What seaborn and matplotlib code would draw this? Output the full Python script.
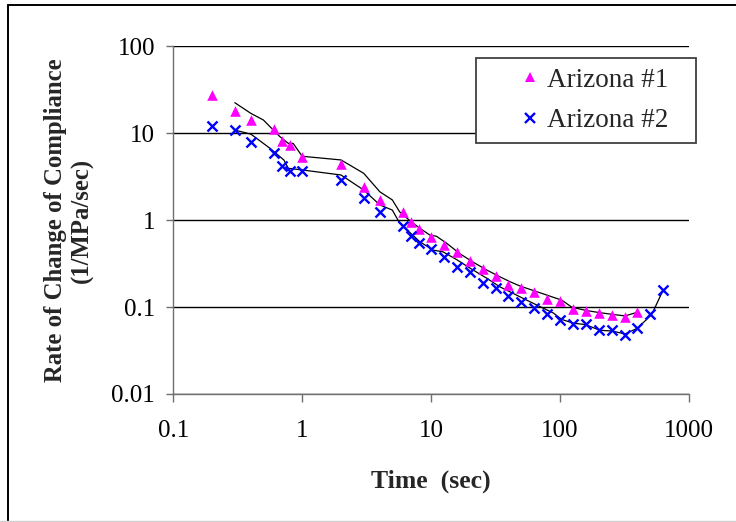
import matplotlib
matplotlib.use("Agg")
import matplotlib.pyplot as plt
from matplotlib.lines import Line2D
import numpy as np
import pandas as pd
import seaborn as sns

# Measured rate of change of creep compliance, two Arizona specimens
time_1 = [0.2, 0.3, 0.4, 0.6, 0.7, 0.8, 1.0, 2.0, 3.0, 4.0, 6.0, 7.0, 8.0, 10.0,
          12.6, 15.8, 20.0, 25.1, 31.6, 39.8, 50.1, 63.1, 79.4, 100.0, 125.9,
          158.5, 199.5, 251.2, 316.2, 398.1]
rate_1 = [27.0, 18.0, 14.0, 11.0, 8.0, 7.2, 5.3, 4.4, 2.4, 1.7, 1.25, 0.94, 0.79,
          0.64, 0.52, 0.425, 0.34, 0.27, 0.23, 0.18, 0.164, 0.148, 0.125, 0.118,
          0.096, 0.090, 0.085, 0.081, 0.077, 0.088]

time_2 = [0.2, 0.3, 0.4, 0.6, 0.7, 0.8, 1.0, 2.0, 3.0, 4.0, 6.0, 7.0, 8.0, 10.0,
          12.6, 15.8, 20.0, 25.1, 31.6, 39.8, 50.1, 63.1, 79.4, 100.0, 125.9,
          158.5, 199.5, 251.2, 316.2, 398.1, 501.2, 631.0]
rate_2 = [12.0, 10.7, 7.8, 5.9, 4.2, 3.7, 3.7, 2.9, 1.8, 1.25, 0.85, 0.65, 0.55,
          0.47, 0.38, 0.29, 0.25, 0.19, 0.164, 0.134, 0.113, 0.097, 0.082, 0.070,
          0.063, 0.063, 0.054, 0.054, 0.048, 0.057, 0.083, 0.158]

# Smoothed curves drawn through each data set
fit_time_1 = [0.3, 0.4, 0.5, 0.67, 0.78, 0.85, 1.0, 2.0, 3.0, 4.0, 5.0, 5.7, 7.0,
              8.2, 9.8, 11.0, 13.2, 16.7, 21.0, 27.0, 34.0, 41.0, 49.0, 66.0, 89.0,
              103.0, 124.0, 161.0, 204.0, 259.0, 319.0, 398.0]
fit_rate_1 = [22.3, 16.8, 14.1, 9.1, 7.6, 7.6, 5.4, 4.9, 3.44, 2.11, 1.70, 1.24,
              0.955, 0.80, 0.67, 0.65, 0.54, 0.41, 0.33, 0.266, 0.223, 0.195, 0.174,
              0.150, 0.129, 0.120, 0.099, 0.091, 0.086, 0.082, 0.079, 0.087]

fit_time_2 = [0.3, 0.4, 0.56, 0.72, 0.78, 1.0, 2.0, 3.0, 4.0, 5.0, 5.7, 6.9, 8.2,
              10.4, 12.4, 15.8, 20.0, 27.0, 34.0, 43.0, 55.0, 70.0, 89.0, 103.0,
              127.0, 156.0, 204.0, 252.0, 319.0, 398.0, 514.0, 632.0]
fit_rate_2 = [10.8, 9.7, 6.7, 4.9, 3.93, 3.76, 3.29, 2.21, 1.49, 1.30, 0.92, 0.71,
              0.56, 0.45, 0.43, 0.35, 0.28, 0.214, 0.171, 0.144, 0.120, 0.101, 0.085,
              0.072, 0.065, 0.063, 0.054, 0.053, 0.049, 0.057, 0.082, 0.158]

series_names = ["Arizona #1", "Arizona #2"]
x_ticks = [0.1, 1, 10, 100, 1000]
x_tick_labels = ["0.1", "1", "10", "100", "1000"]
y_ticks = [0.01, 0.1, 1, 10, 100]
y_tick_labels = ["0.01", "0.1", "1", "10", "100"]

sns.set_theme(style="white")
plt.rcParams["font.family"] = ["Liberation Serif", "DejaVu Serif"]

W, H = 736, 522
fig = plt.figure(figsize=(W / 100, H / 100), dpi=100)
ax_l, ax_r, ax_t, ax_b = 173.3, 689.0, 46.0, 394.0
ax = fig.add_axes([ax_l / W, 1 - ax_b / H, (ax_r - ax_l) / W, (ax_b - ax_t) / H])

# Smoothed curves
sns.lineplot(x=fit_time_1, y=fit_rate_1, ax=ax, color="black", lw=0.9,
             sort=False, estimator=None, zorder=3)
sns.lineplot(x=fit_time_2, y=fit_rate_2, ax=ax, color="black", lw=0.9,
             sort=False, estimator=None, zorder=3)

# Data points
sns.scatterplot(x=time_1, y=rate_1, ax=ax, marker="^", color="#FF00FF", s=58,
                linewidth=0, zorder=4)
sns.scatterplot(x=time_2, y=rate_2, ax=ax, marker="x", color="#0000FF", s=52,
                linewidth=1.7, zorder=4)

ax.set_xscale("log")
ax.set_yscale("log")
ax.set_xlim(0.1, 1000)
ax.set_ylim(0.01, 100)
ax.set_xticks(x_ticks, labels=x_tick_labels)
ax.set_yticks(y_ticks, labels=y_tick_labels)
ax.minorticks_off()

# Horizontal major gridlines only
ax.yaxis.grid(True, color="black", lw=1.0)
ax.xaxis.grid(False)
ax.set_axisbelow(True)

for side in ["top", "right"]:
    ax.spines[side].set_visible(False)
for side in ["left", "bottom"]:
    ax.spines[side].set_color("#707070")
    ax.spines[side].set_linewidth(1.0)

ax.tick_params(axis="x", direction="out", length=5.5, width=1.0, color="#707070",
               pad=13, labelsize=18, labelcolor="black", bottom=True)
ax.tick_params(axis="y", direction="out", length=5.0, width=1.0, color="#707070",
               pad=8, labelsize=18, labelcolor="black", left=True)

ax.set_xlabel("Time  (sec)", fontsize=18.5, fontweight="bold")
ax.xaxis.set_label_coords(0.5, (ax_b - 481) / (ax_b - ax_t))
ax.xaxis.label.set_va("center")

ax.set_ylabel("Rate of Change of Compliance\n(1/MPa/sec)", fontsize=17.8,
              fontweight="bold", linespacing=1.2)
ax.yaxis.set_label_coords((69 - ax_l) / (ax_r - ax_l), 0.5)
ax.yaxis.label.set_va("center")

handles = [
    Line2D([], [], marker="^", color="#FF00FF", linestyle="none", markersize=7,
           markeredgewidth=0),
    Line2D([], [], marker="x", color="#0000FF", linestyle="none", markersize=7,
           markeredgewidth=1.7),
]
lx0 = (476 - ax_l) / (ax_r - ax_l)
lx1 = (696 - ax_l) / (ax_r - ax_l)
ly1 = (ax_b - 58) / (ax_b - ax_t)
ly0 = (ax_b - 140) / (ax_b - ax_t)
leg = ax.legend(handles, series_names, loc="upper left",
                bbox_to_anchor=(lx0, ly0, lx1 - lx0, ly1 - ly0), mode="expand",
                borderaxespad=0, fontsize=19.5, frameon=True, fancybox=False,
                shadow=False, borderpad=0.36, labelspacing=0.58,
                handlelength=3.3, handletextpad=-1.05)
leg.get_frame().set_edgecolor("#404040")
leg.get_frame().set_linewidth(1.3)
leg.get_frame().set_facecolor("white")
leg.get_frame().set_alpha(1)
leg.set_zorder(5)

# Outer chart frame
fig.add_artist(Line2D([8 / W, 8 / W], [0, 1 - 5 / H], transform=fig.transFigure,
                      color="black", lw=1.4))
fig.add_artist(Line2D([8 / W, 1], [1 - 5 / H, 1 - 5 / H], transform=fig.transFigure,
                      color="black", lw=1.4))
fig.add_artist(Line2D([0, 1], [1 - 520.5 / H, 1 - 520.5 / H],
                      transform=fig.transFigure, color="#d0d0d0", lw=1.0))

fig.savefig("out.png", dpi=100)
